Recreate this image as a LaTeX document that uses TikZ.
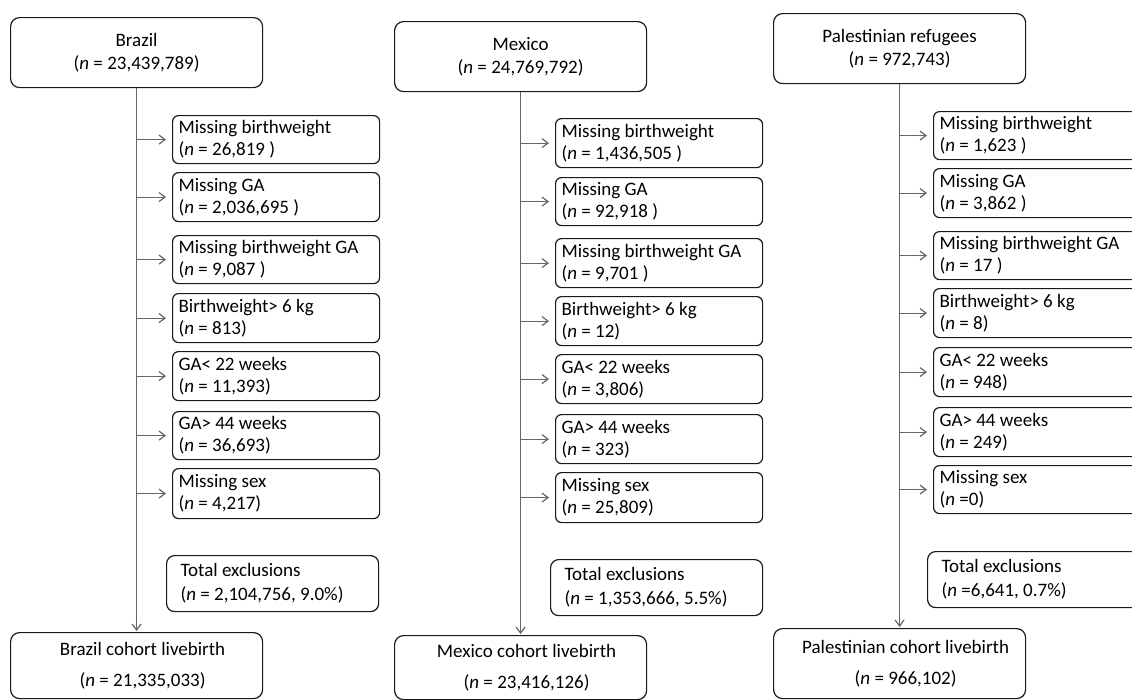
\documentclass[tikz,border=0pt]{standalone}
\usepackage{fontspec}
\setmainfont{Carlito}
\usetikzlibrary{arrows.meta}
\begin{document}
\begin{tikzpicture}[x=1pt,y=-1pt,
  natspace/.style={execute at begin node={\spaceskip=0pt\xspaceskip=0pt\relax}},
  bigbox/.style={natspace, draw=black!90, line width=1.2pt, rounded corners=9pt, anchor=north west,
    inner sep=0pt, minimum width=252pt, font=\fontsize{19}{23}\selectfont, align=center},
  exbox/.style={natspace, draw=black!90, line width=1.2pt, rounded corners=6pt, anchor=north west,
    inner xsep=6pt, inner ysep=0pt, text width=195pt, font=\fontsize{19}{22}\selectfont, align=left},
  totbox/.style={natspace, draw=black!90, line width=1.2pt, rounded corners=8pt, anchor=north west,
    inner xsep=14pt, inner ysep=0pt, text width=184pt, minimum height=56pt,
    font=\fontsize{19}{24}\selectfont, align=left},
  flow/.style={draw=black!60, line width=1.2pt, -{Straight Barb[length=6pt,width=9pt]}},
  side/.style={flow, shorten >=6pt},
]
\useasboundingbox (0,0) rectangle (1132,699);

% ---------------- Brazil ----------------
\node[bigbox, minimum height=70pt] (b0) at (10,17) {Brazil\\(\textit{n} = 23,439,789)};
\node[exbox, minimum height=48pt] (b1) at (172,115) {Missing birthweight\\(\textit{n} = 26,819 )};
\node[exbox, minimum height=49pt] (b2) at (172,172) {Missing GA\\(\textit{n} = 2,036,695 )};
\node[exbox, minimum height=48pt] (b3) at (172,235) {Missing birthweight GA\\(\textit{n} = 9,087 )};
\node[exbox, minimum height=49pt] (b4) at (172,293) {Birthweight> 6 kg\\(\textit{n} = 813)};
\node[exbox, minimum height=49pt] (b5) at (172,351) {GA< 22 weeks\\(\textit{n} = 11,393)};
\node[exbox, minimum height=48pt] (b6) at (172,411) {GA> 44 weeks\\(\textit{n} = 36,693)};
\node[exbox, minimum height=50pt] (b7) at (172,468) {Missing sex\\(\textit{n} = 4,217)};
\node[totbox] (bt) at (166,555) {Total exclusions\\(\textit{n} = 2,104,756, 9.0\%)};
\node[bigbox, minimum height=66pt] (b9) at (10,632) {\hspace*{12pt}Brazil cohort livebirth\\[8pt]\hspace*{12pt}(\textit{n} = 21,335,033)};
\draw[flow, shorten >=1pt] (b0.south) -- (b9.north);
\foreach \i in {1,...,7} \draw[side] (b0.south |- b\i.west) -- (b\i.west);

% ---------------- Mexico ----------------
\node[bigbox, minimum height=70pt] (m0) at (394,21) {Mexico\\(\textit{n} = 24,769,792)};
\node[exbox, minimum height=49pt] (m1) at (555,118) {Missing birthweight\\(\textit{n} = 1,436,505 )};
\node[exbox, minimum height=48pt] (m2) at (555,177) {Missing GA\\(\textit{n} = 92,918 )};
\node[exbox, minimum height=49pt] (m3) at (555,238) {Missing birthweight GA\\(\textit{n} = 9,701 )};
\node[exbox, minimum height=49pt] (m4) at (555,296) {Birthweight> 6 kg\\(\textit{n} = 12)};
\node[exbox, minimum height=49pt] (m5) at (555,354) {GA< 22 weeks\\(\textit{n} = 3,806)};
\node[exbox, minimum height=49pt] (m6) at (555,414) {GA> 44 weeks\\(\textit{n} = 323)};
\node[exbox, minimum height=50pt] (m7) at (555,472) {Missing sex\\(\textit{n} = 25,809)};
\node[totbox] (mt) at (550,559) {Total exclusions\\(\textit{n} = 1,353,666, 5.5\%)};
\node[bigbox, minimum height=64pt] (m9) at (394,635) {\hspace*{12pt}Mexico cohort livebirth\\[8pt]\hspace*{12pt}(\textit{n} = 23,416,126)};
\draw[flow, shorten >=1pt] (m0.south) -- (m9.north);
\foreach \i in {1,...,7} \draw[side] (m0.south |- m\i.west) -- (m\i.west);

% ---------------- Palestinian refugees ----------------
\node[bigbox, minimum height=70pt] (p0) at (773,13) {Palestinian refugees\\(\textit{n} = 972,743)};
\node[exbox, minimum height=48pt] (p1) at (933,111) {Missing birthweight\\(\textit{n} = 1,623 )};
\node[exbox, minimum height=49pt] (p2) at (933,168) {Missing GA\\(\textit{n} = 3,862 )};
\node[exbox, minimum height=48pt] (p3) at (933,231) {Missing birthweight GA\\(\textit{n} = 17 )};
\node[exbox, minimum height=49pt] (p4) at (933,288) {Birthweight> 6 kg\\(\textit{n} = 8)};
\node[exbox, minimum height=49pt] (p5) at (933,347) {GA< 22 weeks\\(\textit{n} = 948)};
\node[exbox, minimum height=49pt] (p6) at (933,407) {GA> 44 weeks\\(\textit{n} = 249)};
\node[exbox, minimum height=48pt] (p7) at (933,465) {Missing sex\\(\textit{n} =0)};
\node[totbox] (pt) at (927,551) {Total exclusions\\(\textit{n} =6,641, 0.7\%)};
\node[bigbox, minimum height=70pt] (p9) at (773,628) {\hspace*{12pt}Palestinian cohort livebirth\\[8pt]\hspace*{12pt}(\textit{n} = 966,102)};
\draw[flow, shorten >=1pt] (p0.south) -- (p9.north);
\foreach \i in {1,...,7} \draw[side] (p0.south |- p\i.west) -- (p\i.west);
\end{tikzpicture}
\end{document}
